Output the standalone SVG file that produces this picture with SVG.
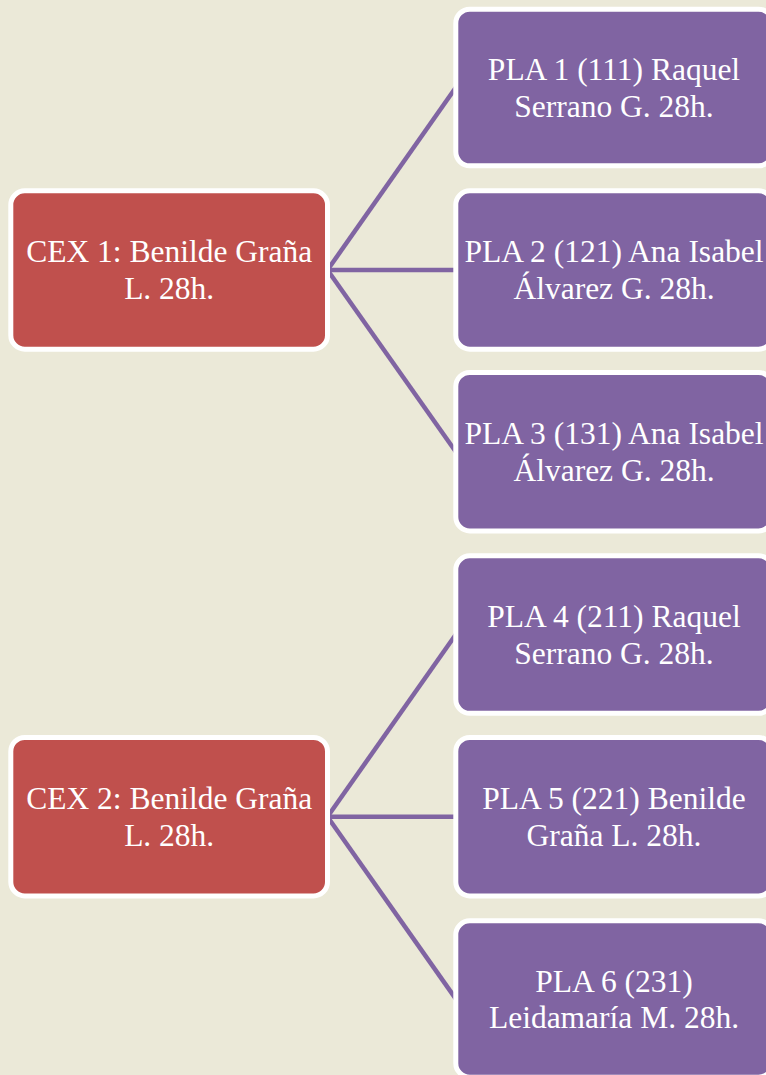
<svg xmlns="http://www.w3.org/2000/svg" width="766" height="1075" viewBox="0 0 766 1075">
<style>
.bg{fill:#EBE9D8}
.cex{fill:#C0504D;stroke:#FFFFFF;stroke-width:5}
.pla{fill:#8064A2;stroke:#FFFFFF;stroke-width:5}
.t{font-family:"Liberation Serif","Times New Roman",serif;font-size:31.5px;fill:#FFFFFF;text-anchor:middle}
.c{stroke:#8064A2;stroke-width:4.5;fill:none}
</style>
<rect class="bg" x="0" y="0" width="766" height="1075"/>
<g id="connectors">
<line class="c" x1="327.5" y1="270" x2="455.8" y2="87.5"/>
<line class="c" x1="327.5" y1="270" x2="455.8" y2="270"/>
<line class="c" x1="327.5" y1="270" x2="455.8" y2="451.7"/>
<line class="c" x1="327.5" y1="816.7" x2="455.8" y2="634.5"/>
<line class="c" x1="327.5" y1="816.7" x2="455.8" y2="816.7"/>
<line class="c" x1="327.5" y1="816.7" x2="455.8" y2="998.9"/>
</g>
<g id="cex1">
<rect class="cex" x="10.8" y="190.8" width="316.7" height="158.4" rx="14"/>
<text class="t" x="169.2" y="262.3">CEX 1: Benilde Graña</text>
<text class="t" x="169.2" y="299">L. 28h.</text>
</g>
<g id="pla1">
<rect class="pla" x="455.8" y="9.2" width="316.7" height="156.6" rx="14"/>
<text class="t" x="614" y="80">PLA 1 (111) Raquel</text>
<text class="t" x="614" y="116.5">Serrano G. 28h.</text>
</g>
<g id="pla2">
<rect class="pla" x="455.8" y="190.8" width="316.7" height="158.4" rx="14"/>
<text class="t" x="614" y="262.3">PLA 2 (121) Ana Isabel</text>
<text class="t" x="614" y="299">Álvarez G. 28h.</text>
</g>
<g id="pla3">
<rect class="pla" x="455.8" y="372.5" width="316.7" height="158.4" rx="14"/>
<text class="t" x="614" y="444">PLA 3 (131) Ana Isabel</text>
<text class="t" x="614" y="480.7">Álvarez G. 28h.</text>
</g>
<g id="cex2">
<rect class="cex" x="10.8" y="737.5" width="316.7" height="158.4" rx="14"/>
<text class="t" x="169.2" y="809">CEX 2: Benilde Graña</text>
<text class="t" x="169.2" y="845.7">L. 28h.</text>
</g>
<g id="pla4">
<rect class="pla" x="455.8" y="555.8" width="316.7" height="157.5" rx="14"/>
<text class="t" x="614" y="627">PLA 4 (211) Raquel</text>
<text class="t" x="614" y="663.5">Serrano G. 28h.</text>
</g>
<g id="pla5">
<rect class="pla" x="455.8" y="737.5" width="316.7" height="158.4" rx="14"/>
<text class="t" x="614" y="809">PLA 5 (221) Benilde</text>
<text class="t" x="614" y="845.7">Graña L. 28h.</text>
</g>
<g id="pla6">
<rect class="pla" x="455.8" y="920.8" width="316.7" height="156.4" rx="14"/>
<text class="t" x="614" y="991.7">PLA 6 (231)</text>
<text class="t" x="614" y="1028.3">Leidamaría M. 28h.</text>
</g>
</svg>
